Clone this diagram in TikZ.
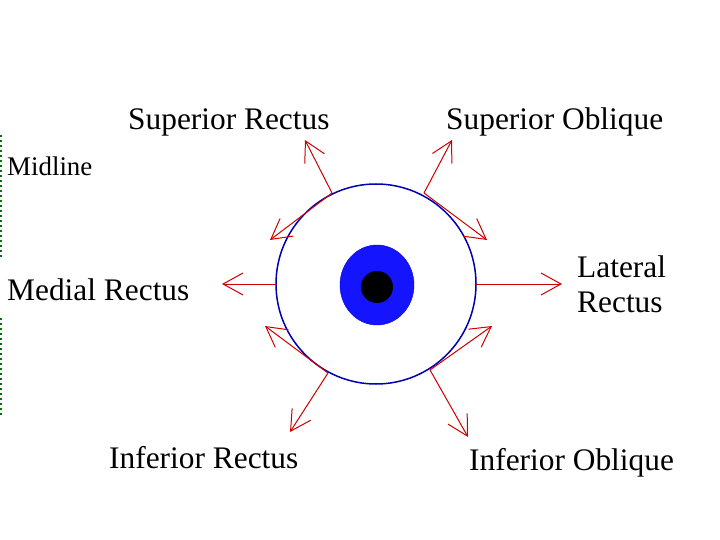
\documentclass[tikz,border=0pt]{standalone}
\usepackage{fontspec}
\setmainfont{Liberation Serif}
\usetikzlibrary{arrows.meta,shapes.geometric}
\begin{document}
\begin{tikzpicture}[x=1bp,y=-1bp,
  mus/.style={draw=red!80!black,line width=1bp,-{Straight Barb[length=20bp,width=22bp]}},
  lab/.style={font=\fontsize{31.5}{36}\selectfont,align=left,inner sep=0},
  mid/.style={draw=green!45!black,line width=2bp,dash pattern=on 2bp off 3bp}]
\useasboundingbox (0,0) rectangle (720,540);
\node[lab,anchor=west] (sr) at (128,122) {Superior Rectus};
\node[lab,anchor=west] (so) at (446,122) {Superior Oblique};
\node[font=\fontsize{27}{30}\selectfont,anchor=west,inner sep=0] (ml) at (7,166) {Midline};
\node[lab,anchor=west] (mr) at (7,290) {Medial Rectus};
\node[lab,anchor=west] (lr) at (577,284) {Lateral\\[-1bp]Rectus};
\node[lab,anchor=west] (ir) at (109,458) {Inferior Rectus};
\node[lab,anchor=west] (io) at (469,463) {Inferior Oblique};
\draw[mid] (1,135) -- (1,260);
\draw[mid] (1,318) -- (1,415);
\node[draw=blue!70!black,line width=1.5bp,circle,minimum size=200bp] (eye) at (376,284) {};
\node[fill=blue!92!white,draw=blue!90!black,ellipse,minimum width=74bp,minimum height=80bp,inner sep=0] (iris) at (377,285) {};
\node[fill=black,circle,minimum size=32bp,inner sep=0] (pupil) at (377,287) {};
\coordinate (a1) at (332,193); \coordinate (a1t) at (305,140); \coordinate (a1s) at (270,240);
\coordinate (a2) at (424,193); \coordinate (a2t) at (452,140); \coordinate (a2s) at (487,240);
\coordinate (a3) at (276,284); \coordinate (a3t) at (222,284);
\coordinate (a4) at (476,284); \coordinate (a4t) at (562,284);
\coordinate (a5) at (328,373); \coordinate (a5t) at (290,432); \coordinate (a5s) at (265,326);
\coordinate (a6) at (430,370); \coordinate (a6t) at (468,437); \coordinate (a6s) at (492,326);
\draw[mus] (a1) -- (a1t); \draw[mus] (a1) -- (a1s);
\draw[mus] (a2) -- (a2t); \draw[mus] (a2) -- (a2s);
\draw[mus] (a3) -- (a3t); \draw[mus] (a4) -- (a4t);
\draw[mus] (a5) -- (a5t); \draw[mus] (a5) -- (a5s);
\draw[mus] (a6) -- (a6t); \draw[mus] (a6) -- (a6s);
\end{tikzpicture}
\end{document}
